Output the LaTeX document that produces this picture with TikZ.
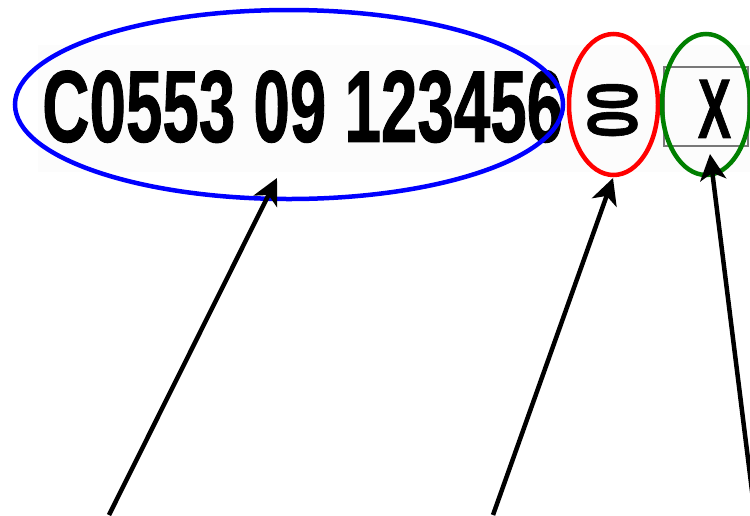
\documentclass[tikz,border=0pt]{standalone}
\usepackage{fontspec}
\setmainfont{Liberation Sans}[BoldFeatures={FakeBold=1.2}]
\usetikzlibrary{shapes.geometric,arrows.meta}
\definecolor{bgpanel}{RGB}{252,252,252}
\definecolor{ringblue}{RGB}{0,0,255}
\definecolor{ringred}{RGB}{255,0,0}
\definecolor{ringgreen}{RGB}{0,128,0}
\definecolor{boxgray}{RGB}{120,120,120}
\tikzset{
  ring/.style={ellipse, line width=4.5pt, inner sep=0pt},
  glyph/.style={inner sep=0pt, text=black},
  pointer/.style={draw=black, line width=4.5pt, -{Stealth[length=26pt,width=26pt,inset=7pt]}},
}
\begin{document}
\begin{tikzpicture}[x=1pt,y=-1pt]
\useasboundingbox (0,0) rectangle (750,515);
\clip (0,0) rectangle (750,515);
\fill[bgpanel] (38,45) rectangle (750,172);
% texts
\node[glyph, anchor=south west] (num) at (42,143) {\resizebox{521pt}{71pt}{\bfseries C0553 09 123456}};
\node[glyph, rotate=90] (chk) at (612.5,110) {\resizebox{56pt}{49pt}{\bfseries 00}};
\node[draw=boxgray, line width=1.5pt, minimum width=84pt, minimum height=79pt, inner sep=0pt] (xbox) at (706,106.5) {};
\node[glyph, anchor=south] (xch) at (714.5,138) {\resizebox{33pt}{58pt}{\bfseries X}};
% rings
\node[ring, draw=ringblue, minimum width=548pt, minimum height=189pt] (bluering) at (289,104.5) {};
\node[ring, draw=ringred, minimum width=89pt, minimum height=141pt] (redring) at (613.5,104.5) {};
\node[ring, draw=ringgreen, minimum width=88pt, minimum height=141pt] (greenring) at (706,104.5) {};
% pointers
\coordinate (p1s) at (109,515);
\coordinate (p1t) at (277,178);
\coordinate (p2s) at (493,515);
\coordinate (p2t) at (613,178);
\coordinate (p3s) at (755,515);
\coordinate (p3t) at (710,154);
\draw[pointer] (p1s) -- (p1t);
\draw[pointer] (p2s) -- (p2t);
\draw[pointer] (p3s) -- (p3t);
\end{tikzpicture}
\end{document}
